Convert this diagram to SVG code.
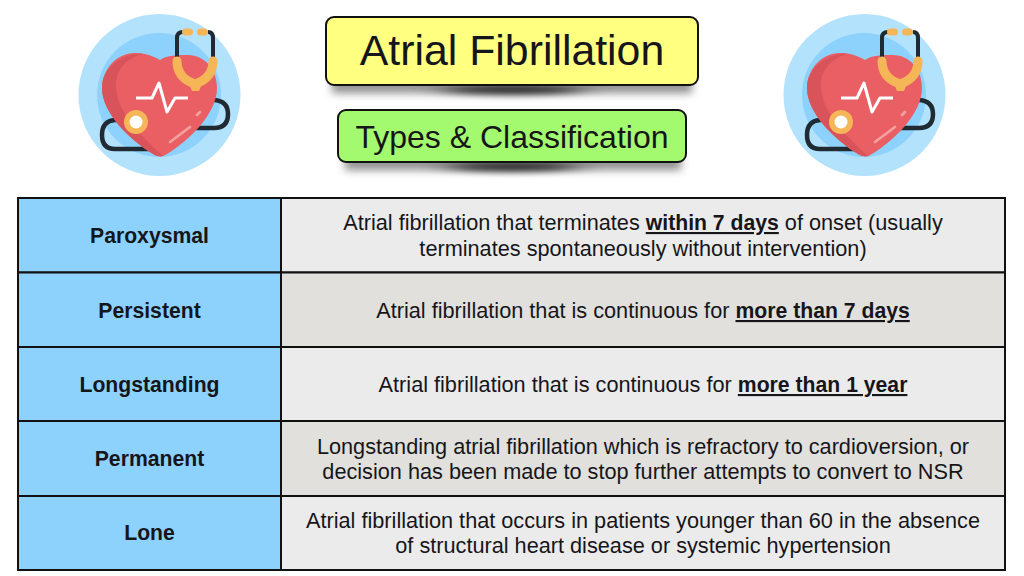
<svg xmlns="http://www.w3.org/2000/svg" width="1024" height="576" viewBox="0 0 1024 576">
<style>
text{font-family:"Liberation Sans",Arial,sans-serif;fill:#16161a;text-anchor:middle}
.lab{font-size:21.200px;font-weight:700}
.txt{font-size:21.700px}
.b{font-size:21.200px;font-weight:700;text-decoration:underline}
.cell{stroke:#111;stroke-width:2}
.k{fill:#8dd2fd}
.l{fill:#ebebeb}
.d{fill:#e1e0dc}
.box{stroke:#111;stroke-width:2}
</style>
<defs>
<filter id="blur" x="-20%" y="-150%" width="140%" height="400%"><feGaussianBlur stdDeviation="4"/></filter>
<filter id="blurc" x="-60%" y="-300%" width="220%" height="700%"><feGaussianBlur stdDeviation="16 3"/></filter>
<g id="icon">
<circle cx="159.500" cy="95" r="81" fill="#b3e2fd"/>
<circle cx="159" cy="95" r="62" fill="#8dd2fd"/>
<path d="M195 90V94Q195 100 202 100H214Q228 101 228 114Q228 128 214 128H190" fill="none" stroke="#1f2a33" stroke-width="4.500"/>
<path d="M130 120H115Q102 121 102 135Q102 149 115 149H150" fill="none" stroke="#1f2a33" stroke-width="4.500"/>
<path d="M160 60C150 54 142 53 135 53C116 53 102 70 102 88C102 113 130 140 153 154Q160 159 167 154C190 140 217 113 217 88C217 70 205 55 188 55C176 55 168 55 160 60Z" fill="#e95f64"/>
<path d="M143 54C125 52 102 66 102 88C102 113 130 140 153 154Q158 157 163 156C140 135 116 112 116 85C116 70 126 58 143 54Z" fill="#d9545a"/>
<path d="M136 98H152L159 83L167 112L175 98H188" fill="none" stroke="#fff" stroke-width="3" stroke-linejoin="round"/>
<path d="M170 142L190 127M197 115L200 112" fill="none" stroke="#f3a0a3" stroke-width="2.800" stroke-linecap="round"/>
<path d="M177 58V38Q177 32 183 32M213 58V38Q213 32 208 32" fill="none" stroke="#1f2a33" stroke-width="4"/>
<rect x="182" y="28.500" width="11" height="7" rx="3.500" fill="#f5b658"/>
<rect x="197" y="28.500" width="11" height="7" rx="3.500" fill="#f5b658"/>
<path d="M177 61Q177 78 195 84Q213 78 213 61" fill="none" stroke="#f5b658" stroke-width="9" stroke-linecap="round"/>
<path d="M188 81H203L199 91H192Z" fill="#f5b658"/>
<circle cx="136" cy="122" r="12" fill="#f5b658"/>
<circle cx="136" cy="122" r="6.500" fill="#fff"/>
</g>
</defs>
<rect width="1024" height="576" fill="#fff"/>

<g id="icon-left"><use href="#icon"/></g>
<g id="icon-right"><use href="#icon" x="705"/></g>

<g id="title">
<rect x="332" y="80" width="360" height="13" fill="#666" opacity=".75" filter="url(#blur)"/>
<ellipse cx="512" cy="90" rx="70" ry="5" fill="#000" opacity=".7" filter="url(#blurc)"/>
<rect class="box" x="326" y="17" width="372" height="68" rx="8" fill="#ffff80"/>
<text x="512" y="65" font-size="42.800">Atrial Fibrillation</text>
</g>
<g id="subtitle">
<rect x="345" y="157" width="336" height="13" fill="#666" opacity=".75" filter="url(#blur)"/>
<ellipse cx="512" cy="167" rx="65" ry="5" fill="#000" opacity=".7" filter="url(#blurc)"/>
<rect class="box" x="338" y="110" width="348" height="52" rx="8" fill="#a4fa6e"/>
<text x="512" y="148" font-size="32">Types &amp; Classification</text>
</g>

<g id="row-paroxysmal">
<rect class="cell k" x="18" y="198" width="263" height="74.500"/>
<rect class="cell l" x="281" y="198" width="724" height="74.500"/>
<text class="lab" x="149.500" y="243">Paroxysmal</text>
<text class="txt" x="643" y="230">Atrial fibrillation that terminates <tspan class="b">within 7 days</tspan> of onset (usually</text>
<text class="txt" x="643" y="256">terminates spontaneously without intervention)</text>
</g>
<g id="row-persistent">
<rect class="cell k" x="18" y="272.500" width="263" height="74.500"/>
<rect class="cell d" x="281" y="272.500" width="724" height="74.500"/>
<text class="lab" x="149.500" y="318">Persistent</text>
<text class="txt" x="643" y="318">Atrial fibrillation that is continuous for <tspan class="b">more than 7 days</tspan></text>
</g>
<g id="row-longstanding">
<rect class="cell k" x="18" y="347" width="263" height="74"/>
<rect class="cell l" x="281" y="347" width="724" height="74"/>
<text class="lab" x="149.500" y="392">Longstanding</text>
<text class="txt" x="643" y="392">Atrial fibrillation that is continuous for <tspan class="b">more than 1 year</tspan></text>
</g>
<g id="row-permanent">
<rect class="cell k" x="18" y="421" width="263" height="75"/>
<rect class="cell d" x="281" y="421" width="724" height="75"/>
<text class="lab" x="149.500" y="466">Permanent</text>
<text class="txt" x="643" y="454">Longstanding atrial fibrillation which is refractory to cardioversion, or</text>
<text class="txt" x="643" y="479">decision has been made to stop further attempts to convert to NSR</text>
</g>
<g id="row-lone">
<rect class="cell k" x="18" y="496" width="263" height="74"/>
<rect class="cell l" x="281" y="496" width="724" height="74"/>
<text class="lab" x="149.500" y="540">Lone</text>
<text class="txt" x="643" y="528">Atrial fibrillation that occurs in patients younger than 60 in the absence</text>
<text class="txt" x="643" y="553">of structural heart disease or systemic hypertension</text>
</g>
</svg>
